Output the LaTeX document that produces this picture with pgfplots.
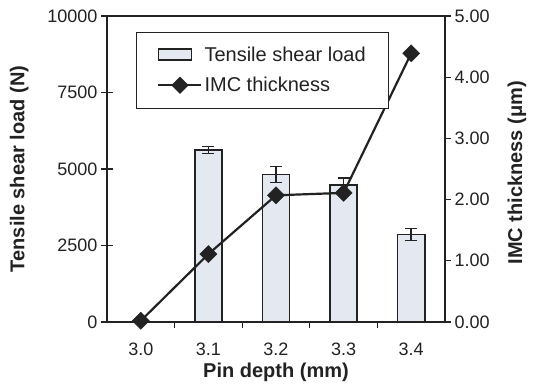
\documentclass[border=0pt]{standalone}
\usepackage{pgfplots}
\pgfplotsset{compat=1.18}
\usepackage{fontspec}
\setmainfont{Liberation Sans}
\definecolor{barfill}{HTML}{E4E8F0}
\definecolor{dk}{HTML}{222222}
\begin{document}
\begin{tikzpicture}
\useasboundingbox (-107pt,-66pt) rectangle (437pt,322pt);
\pgfplotsset{every axis/.append style={scale only axis, width=338pt, height=306pt,
  xmin=-0.5, xmax=4.5, at={(0pt,0pt)}, anchor=south west,
  /pgf/number format/assume math mode=true,
  tick label style={font=\fontsize{18}{18}\selectfont, text=dk},
  label style={font=\fontsize{20}{20}\selectfont\bfseries, text=dk},
  axis line style={dk, line width=1.8pt},
  major tick style={dk, line width=1.3pt}}}
\begin{axis}[
  ymin=0, ymax=10000, ytick={0,2500,5000,7500,10000},
  scaled y ticks=false,
  yticklabel style={/pgf/number format/1000 sep={}},
  ytick pos=left, xtick pos=bottom,
  tick align=center, major tick length=12pt,
  xtick={0,1,2,3,4}, xticklabels={3.0,3.1,3.2,3.3,3.4},
  major x tick style={draw=none},
  xticklabel style={yshift=-5pt},
  xlabel={Pin depth (mm)}, ylabel={Tensile shear load (N)},
  xlabel style={at={(axis description cs:0.5,-0.166)}, anchor=center},
  ylabel style={at={(axis description cs:-0.26,0.5)}, anchor=center},
  ybar, bar width=0.4,
]
\addplot[fill=barfill, draw=dk, line width=1.6pt,
  error bars/.cd, y dir=both, y explicit,
  error bar style={dk, line width=1.4pt},
  error mark options={rotate=90, mark size=6pt, line width=1.4pt, dk}]
  table[x=x, y=y, y error=e] {
x y e
1 5620 120
2 4820 260
3 4480 220
4 2860 200
};
\end{axis}
\begin{axis}[
  ymin=0, ymax=5, ytick={0,1,2,3,4,5},
  yticklabel style={/pgf/number format/.cd, fixed, fixed zerofill, precision=2},
  axis y line*=right, axis x line*=bottom,
  tick align=outside, major tick length=6pt,
  xtick={0.5,1.5,2.5,3.5}, xticklabels={},
  ylabel={IMC thickness (μm)},
  ylabel style={at={(axis description cs:1.213,0.488)}, anchor=center},
  clip=false,
  legend style={at={(0.0858,0.948)}, anchor=north west, draw=dk, line width=0.7pt,
    fill=white, font=\fontsize{20}{20}\selectfont, text=dk,
    row sep=10pt, inner xsep=21pt, inner ysep=13pt},
  legend cell align=left,
]
\addlegendimage{legend image code/.code={\draw[fill=barfill, draw=dk, line width=1.6pt] (0pt,-5pt) rectangle (33pt,6pt);}}
\addlegendentry{Tensile shear load}
\addplot[dk, line width=2.2pt, mark=square*, mark size=6pt, mark options={rotate=45, fill=dk, line width=0.5pt},
  legend image code/.code={\draw[dk, line width=2.2pt] (0pt,0pt) -- (43pt,0pt); \fill[dk, rotate around={45:(21.5pt,0pt)}] (16.5pt,-5pt) rectangle (26.5pt,5pt);}]
  coordinates {(0,0.02) (1,1.11) (2,2.07) (3,2.11) (4,4.39)};
\addlegendentry{IMC thickness}
\end{axis}
\end{tikzpicture}
\end{document}
